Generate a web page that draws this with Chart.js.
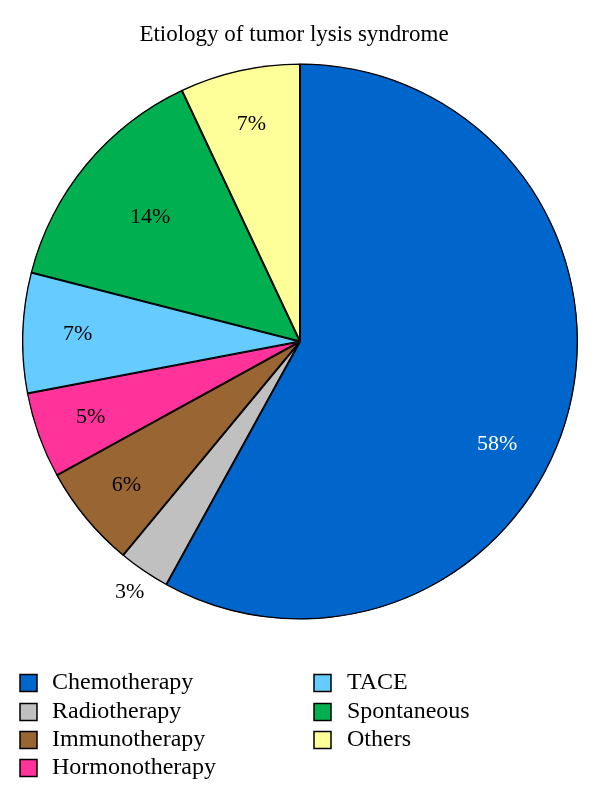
<!DOCTYPE html>
<html>
<head>
<meta charset="utf-8">
<script src="https://cdn.jsdelivr.net/npm/chart.js@4.4.1/dist/chart.umd.min.js"></script>
<style>
  html, body { margin: 0; padding: 0; background: #fff; }
  #wrap { width: 600px; height: 801px; position: relative; }
</style>
</head>
<body>
<div id="wrap"><canvas id="c" width="600" height="801"></canvas></div>
<script>
// 数据
var titleText = "Etiology of tumor lysis syndrome";
var categories = ["Chemotherapy", "Radiotherapy", "Immunotherapy", "Hormonotherapy", "TACE", "Spontaneous", "Others"];
var shares = [58, 3, 6, 5, 7, 14, 7];

// 样式
var sliceColors = ["#0066CC", "#C0C0C0", "#996633", "#FF3399", "#66CCFF", "#00B050", "#FFFF99"];
var labelColors = ["#FFFFFF", "#000000", "#000000", "#000000", "#000000", "#000000", "#000000"];
var labelRadius = [0.80, 1.09, 0.81, 0.80, 0.80, 0.70, 0.80];   // 标签半径（相对半径）
var labelAngleShift = [0.23, 0, 0, 0, 0, 0, 0];                 // 标签角度偏移（弧度）
var SERIF = "'Liberation Serif', 'Times New Roman', serif";

/* ── 标题 + 百分比标签 + 图例 ── */
var decorPlugin = {
  id: "decor",
  afterDatasetsDraw: function (chart) {
    var ctx = chart.ctx;
    var meta = chart.getDatasetMeta(0);
    ctx.save();
    ctx.textAlign = "center";
    ctx.textBaseline = "middle";
    ctx.font = "22px " + SERIF;
    meta.data.forEach(function (arc, i) {
      var p = arc.getProps(["x", "y", "startAngle", "endAngle", "outerRadius"], true);
      var a = (p.startAngle + p.endAngle) / 2 + labelAngleShift[i];
      var r = p.outerRadius * labelRadius[i];
      ctx.fillStyle = labelColors[i];
      ctx.fillText(shares[i] + "%", p.x + Math.cos(a) * r, p.y + Math.sin(a) * r);
    });
    ctx.restore();
  },
  afterDraw: function (chart) {
    var ctx = chart.ctx;
    ctx.save();
    // title
    ctx.fillStyle = "#000";
    ctx.textAlign = "center";
    ctx.textBaseline = "alphabetic";
    ctx.font = "23px " + SERIF;
    ctx.fillText(titleText, 294, 41);

    // legend: two columns
    ctx.textAlign = "left";
    ctx.textBaseline = "middle";
    ctx.font = "24px " + SERIF;
    var cols = [{ box: 20, text: 52 }, { box: 314, text: 347 }];
    var rowY = [683, 712, 740, 768];
    for (var i = 0; i < categories.length; i++) {
      var col = i < 4 ? cols[0] : cols[1];
      var y = rowY[i < 4 ? i : i - 4];
      ctx.fillStyle = sliceColors[i];
      ctx.fillRect(col.box, y - 8.5, 17, 17);
      ctx.strokeStyle = "#000";
      ctx.lineWidth = 1.5;
      ctx.strokeRect(col.box, y - 8.5, 17, 17);
      ctx.fillStyle = "#000";
      ctx.fillText(categories[i], col.text, y);
    }
    ctx.restore();
  }
};

new Chart(document.getElementById("c"), {
  type: "pie",
  data: {
    labels: categories,
    datasets: [{
      data: shares,
      backgroundColor: sliceColors,
      borderColor: "#000",
      borderWidth: 1,
      borderAlign: "inner"
    }]
  },
  options: {
    responsive: false,
    animation: false,
    layout: { padding: { left: 22, right: 22, top: 63, bottom: 181 } },
    plugins: {
      legend: { display: false },
      title: { display: false },
      tooltip: { enabled: false }
    }
  },
  plugins: [decorPlugin]
});
</script>
</body>
</html>
